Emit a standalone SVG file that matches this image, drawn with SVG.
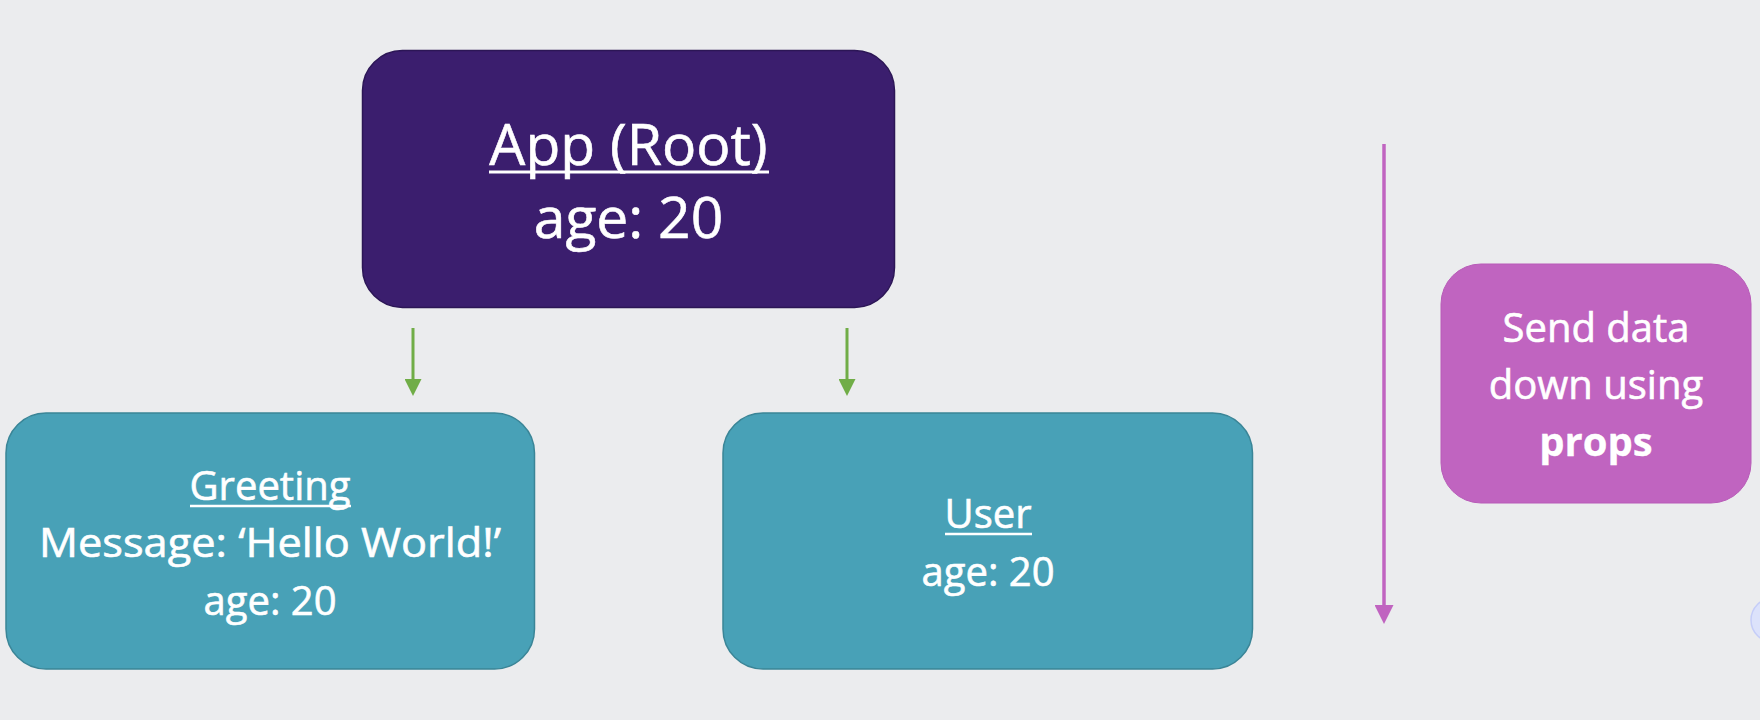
<svg xmlns="http://www.w3.org/2000/svg" width="1760" height="720" viewBox="0 0 1760 720">
  <defs>
    <style>
      .bg { fill: #EBECEE; }
      .app { fill: #3B1E6E; stroke: #2C1656; stroke-width: 1.5; }
      .child { fill: #48A1B7; stroke: #3A8597; stroke-width: 1.5; }
      .note { fill: #C064C0; stroke: #B85BB8; stroke-width: 1; }
      .t { fill: #FFFFFF; stroke: #FFFFFF; stroke-width: 0.6; font-family: "Open Sans", "Noto Sans", "Liberation Sans", sans-serif; text-anchor: middle; }
      .big { font-size: 57px; }
      .mid { font-size: 40px; }
      .b { font-weight: bold; stroke-width: 0.3; }
      .ul { stroke: #FFFFFF; fill: none; }
      .green { stroke: #70AD47; stroke-width: 3; fill: none; }
      .purple { stroke: #C064C0; stroke-width: 3.5; fill: none; }
    </style>
    <marker id="headGreen" viewBox="0 0 10 10" markerUnits="userSpaceOnUse" markerWidth="17" markerHeight="17" refX="0" refY="5" orient="auto">
      <path d="M0,0 L10,5 L0,10 z" fill="#70AD47"/>
    </marker>
    <marker id="headPurple" viewBox="0 0 10 10" markerUnits="userSpaceOnUse" markerWidth="19" markerHeight="19" refX="0" refY="5" orient="auto">
      <path d="M0,0 L10,5 L0,10 z" fill="#C064C0"/>
    </marker>
  </defs>

  <rect class="bg" x="0" y="0" width="1760" height="720"/>

  <g id="connectors">
    <line class="green" x1="413" y1="328" x2="413" y2="379" marker-end="url(#headGreen)"/>
    <line class="green" x1="847" y1="328" x2="847" y2="379" marker-end="url(#headGreen)"/>
    <line class="purple" x1="1384" y1="144" x2="1384" y2="605" marker-end="url(#headPurple)"/>
  </g>

  <g id="app">
    <rect class="app" x="362.5" y="50.5" width="532" height="257" rx="40" ry="40"/>
    <text class="t big" x="628.5" y="165">App (Root)</text>
    <line class="ul" x1="489" y1="172" x2="769" y2="172" stroke-width="3.2"/>
    <text class="t big" x="628.5" y="238">age: 20</text>
  </g>

  <g id="greeting">
    <rect class="child" x="6" y="413" width="528.5" height="256" rx="40" ry="40"/>
    <text class="t mid" x="270" y="500">Greeting</text>
    <line class="ul" x1="190" y1="506" x2="351" y2="506" stroke-width="2.4"/>
    <text class="t mid" x="270" y="557" textLength="462" lengthAdjust="spacingAndGlyphs">Message: ‘Hello World!’</text>
    <text class="t mid" x="270" y="615">age: 20</text>
  </g>

  <g id="user">
    <rect class="child" x="723" y="413" width="529.5" height="256" rx="40" ry="40"/>
    <text class="t mid" x="988" y="528">User</text>
    <line class="ul" x1="945" y1="534" x2="1032" y2="534" stroke-width="2.4"/>
    <text class="t mid" x="988" y="586">age: 20</text>
  </g>

  <g id="props-note">
    <rect class="note" x="1441" y="264" width="310" height="239" rx="40" ry="40"/>
    <text class="t mid" x="1596" y="342">Send data</text>
    <text class="t mid" x="1596" y="399">down using</text>
    <text class="t mid b" x="1596" y="456">props</text>
  </g>

  <circle cx="1773" cy="620" r="22" fill="#DCE2FB" stroke="#C5CDF8" stroke-width="1.5"/>
</svg>
